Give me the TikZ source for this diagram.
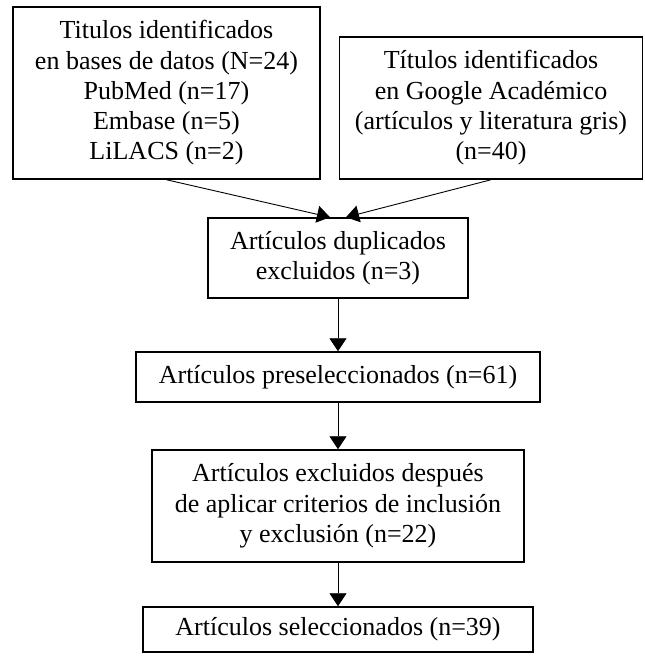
\documentclass[tikz,border=0pt]{standalone}
\usepackage{fontspec}
\setmainfont{Liberation Serif}
\usetikzlibrary{arrows.meta}
\usetikzlibrary{positioning}

\begin{document}
\begin{tikzpicture}
	[x=1pt,y=-1pt,every node/.style={draw,line width=1.5pt,align=center,inner sep=0pt,font=\fontsize{26}{30.3}\selectfont},
	flecha/.style={-{Triangle[length=13pt,width=17pt]},line width=0.9pt}]
	\useasboundingbox (0,0) rectangle (645,656);
	\node[minimum width=307pt,minimum height=172pt] (n1) at (166.5,93) {Titulos identificados\\en bases de datos (N=24)\\PubMed (n=17)\\Embase (n=5)\\LiLACS (n=2)};
	\node[minimum width=303pt,minimum height=142pt] (n2) at (491,108) {Títulos identificados\\en Google Académico\\(artículos y literatura gris)\\(n=40)};
	\node[minimum width=260pt,minimum height=80pt] (n3) at (338,258) {Artículos duplicados\\excluidos (n=3)};
	\node[minimum width=404pt,minimum height=50pt] (n4) at (338,377) {Artículos preseleccionados (n=61)};
	\node[minimum width=372pt,minimum height=112pt] (n5) at (338,506) {Artículos excluidos después\\de aplicar criterios de inclusión\\y exclusión (n=22)};
	\node[minimum width=390pt,minimum height=45pt] (n6) at (338,629.5) {Artículos seleccionados (n=39)};
	
	\draw[flecha] (n1.south) -- ([xshift=-8pt]n3.north);
	\draw[flecha] (n2.south) -- ([xshift=8pt]n3.north);
	\foreach \from/\to in {n3/n4, n4/n5, n5/n6}
	\draw[flecha] (\from) -- (\to);
\end{tikzpicture}
\end{document}
